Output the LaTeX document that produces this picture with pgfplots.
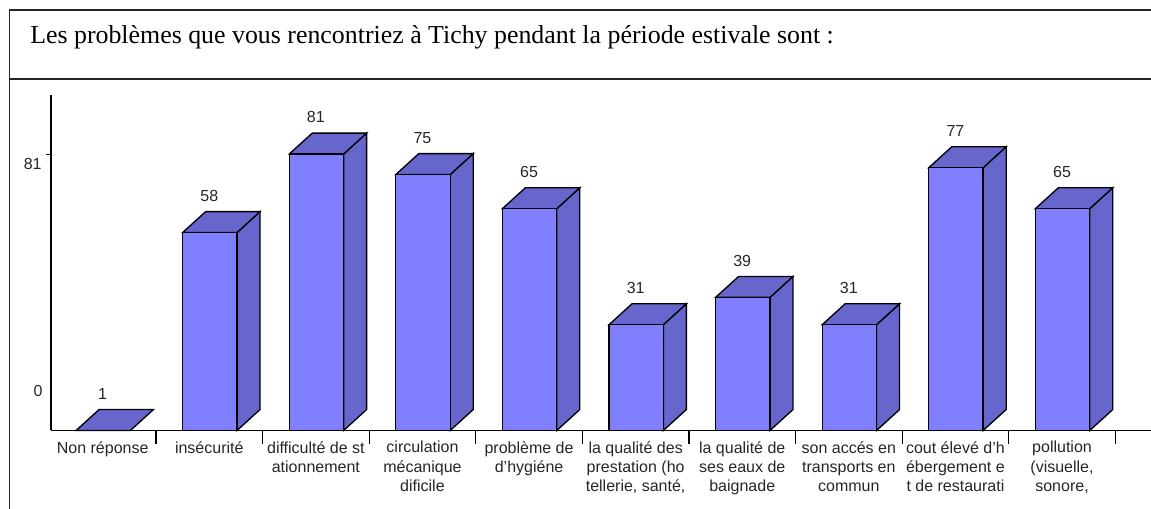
\documentclass[border=0pt]{standalone}
\usepackage{pgfplots}
\pgfplotsset{compat=1.18}
\usepackage{fontspec}
\setmainfont{Liberation Sans}
\newfontfamily\titlefont{Liberation Serif}
\definecolor{barfront}{RGB}{128,128,255}
\definecolor{barside}{RGB}{102,102,204}
% px = 0.75pt
\newcommand{\threedbar}[2]{%
  \pgfmathsetmacro{\xa}{#1-0.25}\pgfmathsetmacro{\xb}{#1+0.26}\pgfmathsetmacro{\xc}{#1+0.476}\pgfmathsetmacro{\xd}{#1-0.034}%
  \pgfmathsetmacro{\yt}{#2}\pgfmathsetmacro{\yu}{#2+6.14}\pgfmathsetmacro{\yl}{6.14}%
  \addplot[draw=black,line width=1pt,fill=barside] coordinates {(\xb,0) (\xc,\yl) (\xc,\yu) (\xb,\yt)} --cycle;
  \addplot[draw=black,line width=1pt,fill=barside] coordinates {(\xa,\yt) (\xd,\yu) (\xc,\yu) (\xb,\yt)} --cycle;
  \addplot[draw=black,line width=1pt,fill=barfront] coordinates {(\xa,0) (\xa,\yt) (\xb,\yt) (\xb,0)} --cycle;
}
\begin{document}
\begin{tikzpicture}[x=1pt,y=1pt]
\path[use as bounding box] (0,0) rectangle (863.25,381.75);
\draw[line width=0.9pt,black!85] (7,0) -- (7,374.25) -- (863.25,374.25);
\draw[line width=0.9pt,black!85] (7,322.5) -- (863.25,322.5);
\node[anchor=west,font=\titlefont\fontsize{19.4}{22}\selectfont,inner sep=0pt] at (22.5,353.5) {Les problèmes que vous rencontriez à Tichy pendant la période estivale sont :};
\begin{axis}[
  at={(38.25pt,58.875pt)},anchor=south west,
  scale only axis,width=825pt,height=251.6pt,
  xmin=-0.485,xmax=9.835,ymin=0,ymax=98.3,
  axis x line=bottom,axis y line=left,
  axis line style={-,line width=0.9pt,black},
  tick align=outside,
  xtick={0.5,1.5,2.5,3.5,4.5,5.5,6.5,7.5,8.5,9.5},
  xticklabels={},
  ytick={81},
  yticklabels={\raisebox{-11.25pt}[0pt][0pt]{81}},
  yticklabel style={font=\fontsize{12}{14}\selectfont,text=black!85,xshift=0.75pt},
  xtick style={line width=0.9pt,black,/pgfplots/major tick length=10pt},
  ytick style={line width=0.7pt,black,/pgfplots/major tick length=3.5pt},
  clip=false,
  extra y ticks={0},
  extra y tick labels={\raisebox{25.75pt}[0pt][0pt]{0}},
  extra y tick style={tick style={draw=none},
    tick label style={font=\fontsize{12}{14}\selectfont,text=black!85,xshift=0.75pt}},
  extra x ticks={0,1,2,3,4,5,6,7,8,9},
  extra x tick style={tick style={draw=none},
    tick label style={font=\fontsize{12}{14.6}\selectfont,text=black!85,align=center,anchor=north,yshift=-0.25pt}},
  extra x tick labels={Non réponse,insécurité,difficulté de st\\ationnement,circulation\\mécanique\\dificile,problème de\\d'hygiéne,{la qualité des\\prestation (ho\\tellerie, santé,},la qualité de\\ses eaux de\\baignade,son accés en\\transports en\\commun,cout élevé d'h\\ébergement e\\t de restaurati,{pollution\\(visuelle,\\sonore,}},
]
\addplot[draw=black,line width=1pt,fill=barside] coordinates {(-0.25,0) (-0.034,6.14) (0.476,6.14) (0.26,0)} --cycle;
\threedbar{1}{58}
\threedbar{2}{81}
\threedbar{3}{75}
\threedbar{4}{65}
\threedbar{5}{31}
\threedbar{6}{39}
\threedbar{7}{31}
\threedbar{8}{77}
\threedbar{9}{65}
\addplot[draw=none,mark=none,nodes near coords,
  nodes near coords style={font=\fontsize{12}{14}\selectfont,text=black!85,anchor=center,yshift=27.5pt},
  point meta=explicit symbolic]
  table[meta=lab,row sep=\\] {x y lab\\
  0 0 1\\
  1 58 58\\
  2 81 81\\
  3 75 75\\
  4 65 65\\
  5 31 31\\
  6 39 39\\
  7 31 31\\
  8 77 77\\
  9 65 65\\
};
\end{axis}
\end{tikzpicture}
\end{document}
